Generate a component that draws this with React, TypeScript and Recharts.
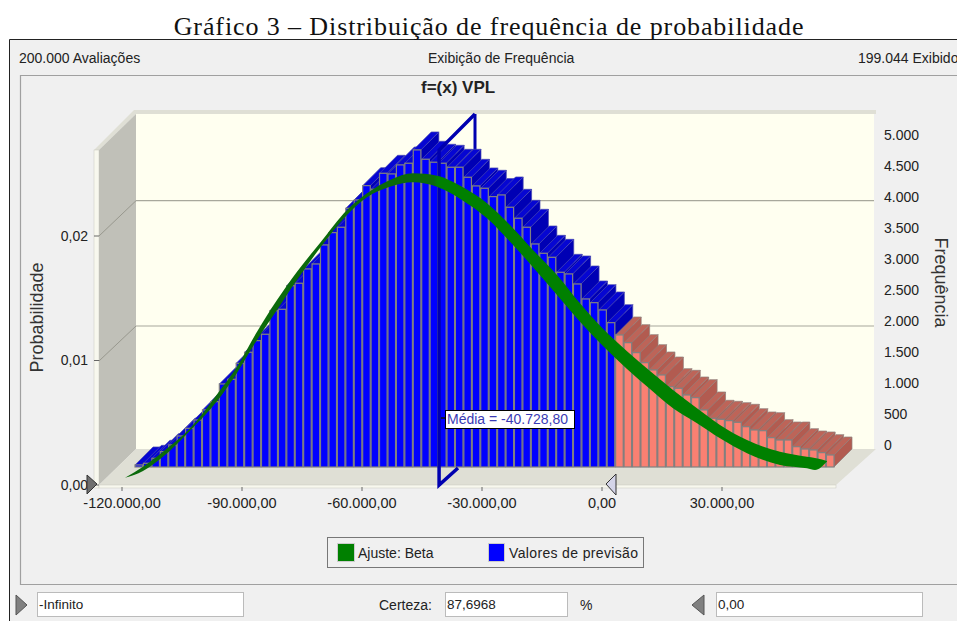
import { ComposedChart, Bar, Area, Line, XAxis, YAxis, Legend } from 'recharts';

const binCenters = [
  -118946, -116838, -114730, -112622, -110514, -108406, -106298, -104190, -102082, -99974,
  -97866, -95758, -93650, -91542, -89434, -87326, -85218, -83110, -81002, -78894,
  -76786, -74678, -72570, -70462, -68354, -66246, -64138, -62030, -59922, -57814,
  -55706, -53598, -51490, -49382, -47274, -45166, -43058, -40950, -38842, -36734,
  -34626, -32518, -30410, -28302, -26194, -24086, -21978, -19870, -17762, -15654,
  -13546, -11438, -9330, -7222, -5114, -3006, -898, 1210, 3318, 5426,
  7534, 9642, 11750, 13858, 15966, 18074, 20182, 22290, 24398, 26506,
  28614, 30722, 32830, 34938, 37046, 39154, 41262, 43370, 45478, 47586,
  49694, 51802, 53910,
];
const frequencies = [
  32, 58, 137, 242, 347, 488, 609, 740, 898, 1029,
  1307, 1381, 1633, 1806, 1990, 2090, 2462, 2483, 2856, 2893,
  3119, 3197, 3497, 3691, 3775, 4074, 4205, 4431, 4373, 4625,
  4615, 4757, 4783, 4993, 4846, 4799, 4783, 4720, 4720, 4562,
  4426, 4389, 4258, 4284, 4090, 3917, 3775, 3512, 3365, 3302,
  3066, 3040, 2882, 2646, 2588, 2473, 2273, 2079, 1958, 1801,
  1643, 1528, 1449, 1265, 1239, 1134, 1092, 898, 767, 751,
  730, 704, 635, 583, 572, 462, 425, 425, 320, 283,
  268, 226, 189,
];

// beta fit, drawn as a ribbon: it gets wider towards the front of the 3D scene
const fitX = [
  -119250, -114750, -109750, -103000, -96000, -91250, -86250, -81250, -76250, -70500,
  -63750, -58750, -53000, -47250, -41250, -34750, -28750, -23000, -17250,
  -11250, -5500, 250, 6250, 12000, 17750, 23750, 29500, 36250, 44500, 51250, 53250, 56250,
];
const fitUpper = [
  0.00059, 0.00147, 0.00267, 0.00455, 0.00739, 0.0095, 0.01231, 0.01486, 0.01713, 0.01944,
  0.02209, 0.02343, 0.0245, 0.02504, 0.02485, 0.02391, 0.02263, 0.02088, 0.01888,
  0.01687, 0.01459, 0.01255, 0.01075, 0.00915, 0.00763, 0.00616, 0.00482, 0.00361, 0.00267, 0.00227, 0.00217, 0.00193,
];
const fitLower = [
  0.00058, 0.00112, 0.00227, 0.00436, 0.00683, 0.009, 0.01165, 0.01406, 0.01647, 0.01904,
  0.02169, 0.02311, 0.02396, 0.02431, 0.02395, 0.02284, 0.02142, 0.01954, 0.01749,
  0.01526, 0.01312, 0.01116, 0.00932, 0.00771, 0.00616, 0.00496, 0.00375, 0.00255, 0.00161, 0.00134, 0.0012, 0.00188,
];

const xTicks = [-120000, -90000, -60000, -30000, 0, 30000];
const probTicks = [0, 0.01, 0.02];
const freqTicks = [0, 500, 1000, 1500, 2000, 2500, 3000, 3500, 4000, 4500, 5000];

// mean marker: floor diagonal, upright, top diagonal of the 3D frame
const MEAN = -40728.8;
const meanX = [-36000, MEAN, MEAN, -31750];
const meanY = [0.00137, 0, 0.0269, 0.0298];

const barRows = binCenters.map((bin, i) => ({ bin, freq: frequencies[i] }));
const fitRows = fitX.map((x, i) => ({ x, band: [fitLower[i], fitUpper[i]] }));
const meanRows = meanX.map((x, i) => ({ x, y: meanY[i] }));

const FONT = '"Liberation Sans", Arial, sans-serif';
const DEPTH = 18;

const fmtThousands = (v: number) => v.toLocaleString('pt-BR');
const fmtMoney = (v: number) =>
  v.toLocaleString('pt-BR', { minimumFractionDigits: 2, maximumFractionDigits: 2 });
const fmtProb = (v: number) => v.toFixed(2).replace('.', ',');

function Bar3D({ x, y, width, height, payload }: any) {
  const tail = payload.bin >= 0;
  const front = tail ? '#fa8072' : '#0000ff';
  const top = tail ? '#bd6458' : '#0606d2';
  const side = tail ? '#b25b50' : '#0000b4';
  const edge = tail ? '#8f7f7b' : '#4a4ab0';
  const r = x + width;
  const b = y + height;
  return (
    <g>
      <polygon points={`${r},${y} ${r + DEPTH},${y - DEPTH} ${r + DEPTH},${b - DEPTH} ${r},${b}`} fill={side} stroke={edge} strokeWidth={0.7} />
      <polygon points={`${x},${y} ${x + DEPTH},${y - DEPTH} ${r + DEPTH},${y - DEPTH} ${r},${y}`} fill={top} stroke={edge} strokeWidth={0.7} />
      <rect x={x} y={y} width={width} height={height} fill={front} stroke="#808080" strokeWidth={1.2} />
    </g>
  );
}

function LegendBox() {
  const item = { display: 'flex', alignItems: 'center', position: 'absolute' as const, top: 5 };
  return (
    <div style={{ width: 317, height: 31, border: '1px solid #777', boxSizing: 'border-box', position: 'relative', fontFamily: FONT, fontSize: 14, color: '#222', background: '#f0f0f0' }}>
      <div style={{ ...item, left: 9 }}>
        <span style={{ width: 18, height: 19, background: '#008000', border: '1px solid #ccc', boxSizing: 'border-box', marginRight: 3 }} />
        Ajuste: Beta
      </div>
      <div style={{ ...item, left: 160, letterSpacing: 0.35 }}>
        <span style={{ width: 17, height: 19, background: '#0000ff', border: '1px solid #ccc', boxSizing: 'border-box', marginRight: 4 }} />
        Valores de previsão
      </div>
    </div>
  );
}

// walls and floor of the 3D box, these sit behind the chart
function Backdrop() {
  return (
    <svg width={957} height={621} style={{ position: 'absolute', left: 0, top: 0 }}>
      <rect x={0} y={0} width={957} height={621} fill="#ffffff" />
      <rect x={9} y={39} width={948} height={582} fill="#f0f0f0" />
      <path d="M9.5 621V39.5H957" fill="none" stroke="#222" strokeWidth={1} />
      <path d="M957 75.5H20.5V584.5H957" fill="none" stroke="#a0a0a0" strokeWidth={1.2} />
      <polygon points="94,150 134,110 876,110 876,114 136,114 99,150" fill="#dfdfd5" />
      <rect x={94} y={150} width={5} height={338} fill="#f8f8ee" stroke="#c8c8c0" strokeWidth={0.5} />
      <rect x={136} y={114} width={738} height={335} fill="#fffff0" />
      <polygon points="99,150 136,114 136,449 99,485" fill="#c0c0b8" />
      <polygon points="99,485 136,449 876,449 836,485" fill="#dfdfd5" />
      <rect x={99} y={485} width={737} height={3} fill="#f8f8ee" stroke="#c8c8c0" strokeWidth={0.5} />
      <path d="M136 200.7H874M136 326H874" stroke="#a8a89c" strokeWidth={1.2} fill="none" />
      <path d="M99 236L136 200.7M99 361L136 326" stroke="#98988e" strokeWidth={1} fill="none" />
      <line x1={475} y1={114} x2={475} y2={150} stroke="#0000b0" strokeWidth={3} />
    </svg>
  );
}

function Chrome() {
  const label = { position: 'absolute' as const, fontFamily: FONT, color: '#222', whiteSpace: 'nowrap' as const };
  const input = { position: 'absolute' as const, top: 592, height: 25, boxSizing: 'border-box' as const, background: '#fff', border: '1px solid #bbb', fontFamily: FONT, fontSize: 13.5, lineHeight: '23px', paddingLeft: 1, color: '#222' };
  return (
    <>
      <div style={{ position: 'absolute', left: 0, width: 978, top: 12, textAlign: 'center', fontFamily: '"Liberation Serif", serif', fontSize: 26, letterSpacing: 0.9, lineHeight: '30px', color: '#111', whiteSpace: 'nowrap' }}>
        Gráfico 3 – Distribuição de frequência de probabilidade
      </div>
      <div style={{ ...label, left: 19, top: 50, fontSize: 14 }}>200.000 Avaliações</div>
      <div style={{ ...label, left: 428, top: 50, fontSize: 14 }}>Exibição de Frequência</div>
      <div style={{ ...label, left: 858, top: 50, fontSize: 14 }}>199.044 Exibido</div>
      <div style={{ ...label, left: 421, top: 78, fontSize: 17, fontWeight: 700 }}>f=(x) VPL</div>
      <div style={{ ...input, left: 37, width: 207 }}>-Infinito</div>
      <div style={{ ...label, left: 379, top: 597, fontSize: 14 }}>Certeza:</div>
      <div style={{ ...input, left: 445, width: 123 }}>87,6968</div>
      <div style={{ ...label, left: 580, top: 597, fontSize: 14 }}>%</div>
      <div style={{ ...input, left: 716, width: 207 }}>0,00</div>
      <svg width={957} height={621} style={{ position: 'absolute', left: 0, top: 0, pointerEvents: 'none' }}>
        <polygon points="16,595 27,605 16,615" fill="#808080" stroke="#555" />
        <polygon points="704,595 692,605 704,615" fill="#808080" stroke="#555" />
        <polygon points="87,475 97,484 87,494" fill="#6e6e6e" stroke="#333" />
        <polygon points="616,474 606,484 616,495" fill="#d4d4e8" stroke="#333" />
        <line x1={441} y1={418} x2={446} y2={418} stroke="#111" strokeWidth={1.5} />
      </svg>
      <div style={{ position: 'absolute', left: 445, top: 410, width: 130, height: 19, boxSizing: 'border-box', border: '1px solid #000', background: '#fff', fontFamily: FONT, fontSize: 14, lineHeight: '17px', color: '#3a3ab4', paddingLeft: 1, whiteSpace: 'nowrap' }}>
        Média = -40.728,80
      </div>
    </>
  );
}

export default function App() {
  return (
    <div style={{ position: 'fixed', left: 0, top: 0, width: 957, height: 621, overflow: 'hidden' }}>
      <Backdrop />
      <div style={{ position: 'absolute', left: 0, top: 0 }}>
        <ComposedChart
          width={957}
          height={621}
          data={barRows}
          margin={{ top: 114, right: 3, bottom: 104, left: 29 }}
        >
          <defs>
            <linearGradient id="fitFill" x1="0" y1="0" x2="1" y2="0">
              <stop offset="0.44" stopColor="#0b6a0b" />
              <stop offset="0.445" stopColor="#008000" />
            </linearGradient>
          </defs>
          <XAxis
            xAxisId="front"
            type="number"
            dataKey="x"
            domain={[-125750, 68000]}
            ticks={xTicks}
            interval={0}
            tickFormatter={fmtMoney}
            axisLine={false}
            tickLine={{ stroke: '#666' }}
            tickSize={4}
            tickMargin={7}
            height={30}
            tick={{ fontSize: 14.5, fill: '#222', fontFamily: FONT }}
          />
          <XAxis xAxisId="plane" type="number" dataKey="bin" domain={[-129000, 64750]} hide height={0} />
          <YAxis yAxisId="plane" type="number" domain={[-315, 5559]} hide width={0} />
          <YAxis
            yAxisId="prob"
            type="number"
            domain={[-0.00016, 0.0298]}
            ticks={probTicks}
            interval={0}
            tickFormatter={fmtProb}
            width={70}
            axisLine={false}
            tickLine={{ stroke: '#666' }}
            tickSize={5}
            tickMargin={6}
            tick={{ fontSize: 14, fill: '#222', fontFamily: FONT }}
            label={{ value: 'Probabilidade', angle: -90, position: 'insideLeft', offset: 8, dy: 17, style: { fontSize: 18, fill: '#333', fontFamily: FONT, textAnchor: 'middle' } }}
          />
          <YAxis
            yAxisId="freq"
            orientation="right"
            type="number"
            domain={[-677, 5339]}
            ticks={freqTicks}
            interval={0}
            tickFormatter={fmtThousands}
            width={80}
            axisLine={false}
            tickLine={false}
            tickSize={0}
            tickMargin={10}
            tick={{ fontSize: 14, fill: '#222', fontFamily: FONT }}
            label={{ value: 'Frequência', angle: 90, position: 'insideRight', offset: 13, dy: -18, style: { fontSize: 18, fill: '#333', fontFamily: FONT, textAnchor: 'middle' } }}
          />
          <Bar
            xAxisId="plane"
            yAxisId="plane"
            dataKey="freq"
            barSize={8.434}
            shape={Bar3D}
            legendType="none"
            isAnimationActive={false}
            zIndex={300}
          />
          {/* keeps the right axis bound to the frequency values */}
          <Line
            xAxisId="plane"
            yAxisId="freq"
            dataKey="freq"
            stroke="none"
            dot={false}
            activeDot={false}
            legendType="none"
            isAnimationActive={false}
          />
          <Line
            xAxisId="front"
            yAxisId="prob"
            data={meanRows}
            dataKey="y"
            type="linear"
            stroke="#0000b0"
            strokeWidth={3.5}
            dot={false}
            activeDot={false}
            legendType="none"
            isAnimationActive={false}
            zIndex={550}
          />
          <Area
            xAxisId="front"
            yAxisId="prob"
            data={fitRows}
            dataKey="band"
            type="monotone"
            stroke="none"
            fill="url(#fitFill)"
            fillOpacity={1}
            dot={false}
            activeDot={false}
            legendType="none"
            isAnimationActive={false}
            zIndex={600}
          />
          <Legend
            layout="horizontal"
            verticalAlign="middle"
            content={<LegendBox />}
            wrapperStyle={{ left: 327, top: 537, width: 317, height: 31 }}
          />
        </ComposedChart>
      </div>
      <Chrome />
    </div>
  );
}
